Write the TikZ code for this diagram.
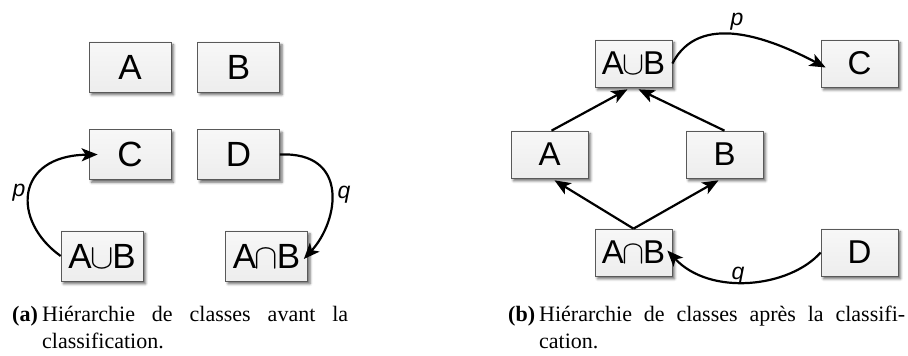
\RequirePackage{fix-cm}
\documentclass[tikz,border=0pt]{standalone}
\usepackage{fontspec}
\setmainfont{Liberation Serif}
\newfontfamily\boxfont{Liberation Sans}
\usetikzlibrary{arrows.meta,shadows.blur}
\tikzset{
  cls/.style={draw=black!65, line width=0.7pt, top color=gray!6, bottom color=gray!14, inner sep=0pt,
    blur shadow={shadow xshift=2.5pt, shadow yshift=-2.8pt, shadow blur radius=2.5pt, shadow opacity=60}},
  clsL/.style={cls, minimum width=82pt, minimum height=50pt, font=\boxfont\fontsize{35}{38}\selectfont},
  clsR/.style={cls, minimum width=77pt, minimum height=47pt, font=\boxfont\fontsize{33}{36}\selectfont},
  conn/.style={line width=2.2pt, -{Stealth[length=16pt,width=13pt,inset=4pt]}},
  lbl/.style={font=\boxfont\itshape\fontsize{23}{25}\selectfont, inner sep=0pt},
  captxt/.style={font=\fontsize{22}{26}\selectfont, anchor=base west, inner sep=0pt}
}
\newcommand{\ucup}{\kern-0.04em$\cup$\kern-0.04em}
\newcommand{\ucap}{\kern-0.04em$\cap$\kern-0.04em}
\begin{document}
\begin{tikzpicture}[x=1pt,y=1pt]
\useasboundingbox (0,0) rectangle (908,356);
% left panel
\node[clsL] (A1) at (130,289) {A};
\node[clsL] (B1) at (238.5,289) {B};
\node[clsL] (C1) at (130,201.5) {C};
\node[clsL] (D1) at (238.5,201.5) {D};
\node[clsL] (U1) at (102,100) {A\ucup B};
\node[clsL] (N1) at (266.5,100) {A\ucap B};
\draw[conn] (U1.west) .. controls +(-49,35) and +(-83,-1.5) .. ([xshift=9pt]C1.west);
\draw[conn] (D1.east) .. controls +(70,3) and +(35,38) .. ([shift={(-4pt,-3pt)}]N1.east);
\node[lbl] (p1) at (19,163) {p};
\node[lbl] (q1) at (344,161) {q};
% right panel
\node[clsR] (U2) at (633.5,292.5) {A\ucup B};
\node[clsR] (C2) at (859.5,292.5) {C};
\node[clsR] (A2) at (549.5,201.5) {A};
\node[clsR] (B2) at (724.5,201.5) {B};
\node[clsR] (N2) at (633.5,103.5) {A\ucap B};
\node[clsR] (D2) at (859.5,103.5) {D};
\draw[conn] ([xshift=2pt]A2.north) -- ([shift={(-6pt,-2pt)}]U2.south);
\draw[conn] (B2.north) -- ([shift={(5pt,-2pt)}]U2.south);
\draw[conn] (N2.north) -- ([shift={(5pt,-2pt)}]A2.south);
\draw[conn] (N2.north) -- ([shift={(-6pt,-2pt)}]B2.south);
\draw[conn] (U2.east) .. controls +(27,52) and +(-57,30) .. ([shift={(5pt,-4pt)}]C2.west);
\draw[conn] (D2.west) .. controls +(-31,-35) and +(43,-46) .. ([shift={(-5pt,2pt)}]N2.east);
\node[lbl] (p2) at (737,334) {p};
\node[lbl] (q2) at (738,80) {q};
% captions
\node[captxt] (la) at (12,34) {\textbf{(a)}};
\node[captxt] (ca1) at (42,34) {\makebox[306pt][s]{Hiérarchie de classes avant la}};
\node[captxt] (ca2) at (42,7) {classification.};
\node[captxt] (lb) at (508,34) {\textbf{(b)}};
\node[captxt] (cb1) at (539,34) {\makebox[366pt][s]{Hiérarchie de classes après la classifi-}};
\node[captxt] (cb2) at (539,7) {cation.};
\end{tikzpicture}
\end{document}
